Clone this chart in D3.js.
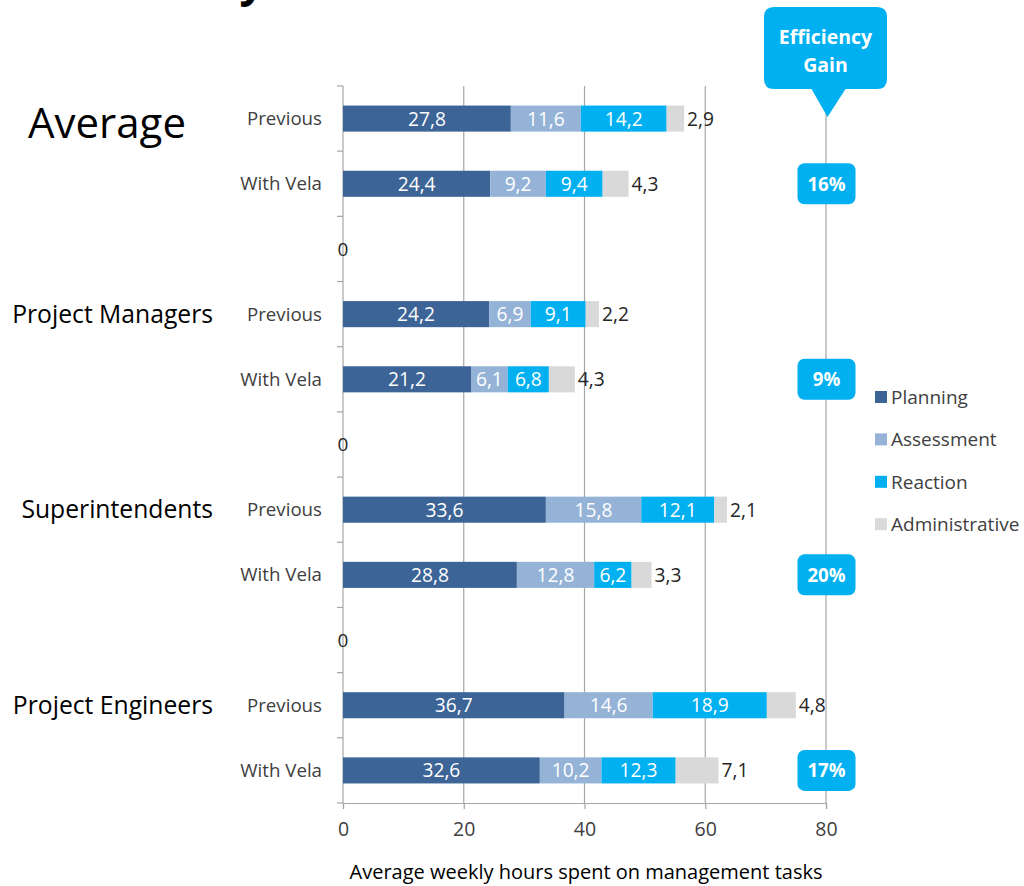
<!DOCTYPE html>
<html><head><meta charset="utf-8">
<script src="https://cdn.jsdelivr.net/npm/d3@7"></script>
<style>
html,body{margin:0;padding:0;background:#fff;}
svg{display:block;}
text{font-family:"Open Sans","Noto Sans",sans-serif;}
</style></head>
<body>
<svg id="chart" width="1024" height="886"></svg>
<script>
const groups = ["Average", "Project Managers", "Superintendents", "Project Engineers"];
const rowLabels = ["Previous", "With Vela"];
const seriesNames = ["Planning", "Assessment", "Reaction", "Administrative"];
const planning = [27.8, 24.4, 24.2, 21.2, 33.6, 28.8, 36.7, 32.6];
const assessment = [11.6, 9.2, 6.9, 6.1, 15.8, 12.8, 14.6, 10.2];
const reaction = [14.2, 9.4, 9.1, 6.8, 12.1, 6.2, 18.9, 12.3];
const administrative = [2.9, 4.3, 2.2, 4.3, 2.1, 3.3, 4.8, 7.1];
const gains = ["16%", "9%", "20%", "17%"];
const xTicks = [0, 20, 40, 60, 80];
const xTitle = "Average weekly hours spent on management tasks";
const calloutLines = ["Efficiency", "Gain"];

const colors = ["#3C6496", "#95B3D7", "#00B0F0", "#D9D9D9"];
const svg = d3.select("#chart");

const rows = [];
groups.forEach((g, gi) => {
  rowLabels.forEach((r, ri) => {
    const i = gi * 2 + ri;
    rows.push({key: g + "|" + r, label: r, group: g, gi, ri,
      vals: [planning[i], assessment[i], reaction[i], administrative[i]]});
  });
  if (gi < groups.length - 1) rows.push({key: "gap" + gi, label: "0", gap: true});
});

const x = d3.scaleLinear().domain([0, 80]).range([343, 826]);
const y = d3.scaleBand().domain(rows.map(d => d.key)).range([86, 803])
  .paddingInner(0.6).paddingOuter(0.3);
const step = y.step();

// partial title at very top (cut off in the original)
svg.append("text").attr("x", 244).attr("y", -4)
  .attr("font-size", 44).attr("font-weight", "bold").attr("font-style", "italic")
  .attr("fill", "#000").text("y");

// gridlines
svg.append("g").selectAll("line").data(xTicks.filter(t => t > 0)).join("line")
  .attr("x1", d => x(d)).attr("x2", d => x(d))
  .attr("y1", 86).attr("y2", 803)
  .attr("stroke", "#A6A6A6").attr("stroke-width", 1.2);

// x axis
const xAxis = svg.append("g").attr("transform", "translate(0,803)")
  .call(d3.axisBottom(x).tickValues(xTicks).tickSize(6).tickPadding(13));
xAxis.select(".domain").attr("stroke", "#A6A6A6").attr("stroke-width", 1.2);
xAxis.selectAll(".tick line").attr("stroke", "#A6A6A6").attr("stroke-width", 1.2);
xAxis.selectAll(".tick text").attr("font-size", 19.5).attr("fill", "#404040")
  .attr("font-family", "Open Sans");

// y axis line + boundary ticks
svg.append("line").attr("x1", x(0)).attr("x2", x(0)).attr("y1", 86).attr("y2", 803)
  .attr("stroke", "#A6A6A6").attr("stroke-width", 1.2);
const boundaries = d3.range(rows.length + 1).map(i => y.range()[0] + i * step);
svg.append("g").selectAll("line").data(boundaries).join("line")
  .attr("x1", x(0) - 6).attr("x2", x(0)).attr("y1", d => d).attr("y2", d => d)
  .attr("stroke", "#A6A6A6").attr("stroke-width", 1.2);

// row labels
svg.append("g").selectAll("text").data(rows).join("text")
  .attr("x", d => d.gap ? x(0) : 322)
  .attr("y", d => y(d.key) + y.bandwidth() / 2)
  .attr("dy", "0.35em")
  .attr("text-anchor", d => d.gap ? "middle" : "end")
  .attr("font-size", d => d.gap ? 19 : 18.7)
  .attr("fill", d => d.gap ? "#262626" : "#404040")
  .text(d => d.label);

// group labels
const firstRow = k => rows.find(r => r.group === k && r.ri === 0);
svg.append("g").selectAll("text").data(groups).join("text")
  .attr("x", (d, i) => i === 0 ? 28 : 213)
  .attr("y", (d, i) => y(firstRow(d).key) + y.bandwidth() / 2 + (i === 0 ? 5 : 0))
  .attr("dy", "0.35em")
  .attr("text-anchor", (d, i) => i === 0 ? "start" : "end")
  .attr("font-size", (d, i) => i === 0 ? 42 : 24.7)
  .attr("fill", "#000")
  .text(d => d);

// stacked bars
const barRows = rows.filter(r => !r.gap);
barRows.forEach(r => {
  let acc = 0;
  r.segs = r.vals.map((v, si) => { const s = {x0: acc, x1: acc + v, v, si, row: r}; acc += v; return s; });
});
const segs = barRows.flatMap(r => r.segs);
svg.append("g").selectAll("rect").data(segs).join("rect")
  .attr("x", d => x(d.x0)).attr("width", d => x(d.x1) - x(d.x0))
  .attr("y", d => y(d.row.key)).attr("height", y.bandwidth())
  .attr("fill", d => colors[d.si]);

const fmt = v => d3.format(".1f")(v).replace(".", ",");
svg.append("g").selectAll("text").data(segs).join("text")
  .attr("x", d => d.si === 3 ? x(d.x1) + 3 : (x(d.x0) + x(d.x1)) / 2)
  .attr("y", d => y(d.row.key) + y.bandwidth() / 2)
  .attr("dy", "0.36em")
  .attr("text-anchor", d => d.si === 3 ? "start" : "middle")
  .attr("font-size", 19.2)
  .attr("fill", d => d.si === 3 ? "#262626" : "#fff")
  .text(d => fmt(d.v));

// efficiency gain badges
const bw = 58, bh = 41;
const badges = svg.append("g").selectAll("g").data(gains).join("g")
  .attr("transform", (d, i) => `translate(${x(80)},${y(groups[i] + "|With Vela") + y.bandwidth() / 2})`);
badges.append("rect").attr("x", -bw / 2 + 0.5).attr("y", -bh / 2).attr("width", bw).attr("height", bh)
  .attr("rx", 7).attr("fill", "#00B0F0");
badges.append("text").attr("x", 0.5).attr("dy", "0.36em").attr("text-anchor", "middle")
  .attr("font-size", 18.7).attr("font-weight", "bold").attr("fill", "#fff").text(d => d);

// callout
const cx = x(80) + 1.5, cTop = 7, cBot = 89, cL = 764, cR = 887, r = 10, tipY = 117;
const p = d3.path();
p.moveTo(cL + r, cTop);
p.lineTo(cR - r, cTop); p.quadraticCurveTo(cR, cTop, cR, cTop + r);
p.lineTo(cR, cBot - r); p.quadraticCurveTo(cR, cBot, cR - r, cBot);
p.lineTo(cx + 18, cBot); p.lineTo(cx, tipY); p.lineTo(cx - 16, cBot);
p.lineTo(cL + r, cBot); p.quadraticCurveTo(cL, cBot, cL, cBot - r);
p.lineTo(cL, cTop + r); p.quadraticCurveTo(cL, cTop, cL + r, cTop);
p.closePath();
svg.append("path").attr("d", p.toString()).attr("fill", "#00B0F0");
svg.append("g").selectAll("text").data(calloutLines).join("text")
  .attr("x", (cL + cR) / 2).attr("y", (d, i) => 37 + i * 28).attr("dy", "0.36em")
  .attr("text-anchor", "middle").attr("font-size", 19.5).attr("font-weight", "bold")
  .attr("fill", "#fff").text(d => d);

// legend
const leg = svg.append("g").selectAll("g").data(seriesNames).join("g")
  .attr("transform", (d, i) => `translate(875,${397 + i * 42.4})`);
leg.append("rect").attr("x", 0).attr("y", -6).attr("width", 12).attr("height", 12)
  .attr("fill", (d, i) => colors[i]);
leg.append("text").attr("x", 16).attr("dy", "0.36em").attr("font-size", 19)
  .attr("fill", "#404040").text(d => d);

// x title
svg.append("text").attr("x", 586).attr("y", 872).attr("dy", "0.36em")
  .attr("text-anchor", "middle").attr("font-size", 20).attr("fill", "#000")
  .text(xTitle);
</script>
</body></html>
